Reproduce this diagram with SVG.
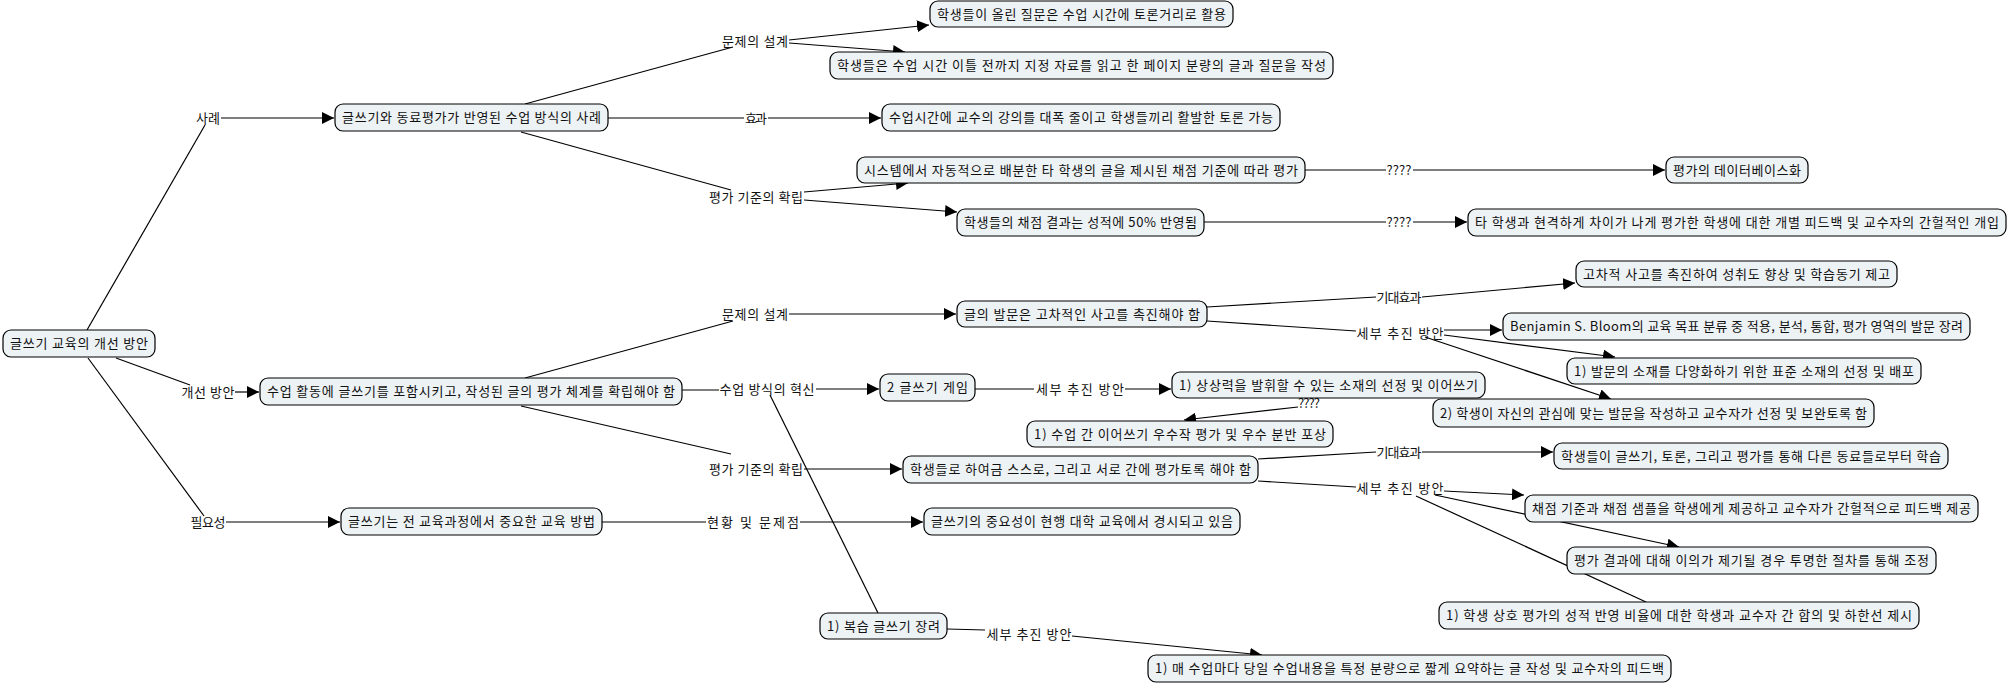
<svg xmlns="http://www.w3.org/2000/svg" width="2008" height="685" viewBox="0 0 2008 685">
<style>
.n rect{fill:#edf2f5;stroke:#000;stroke-width:1.2}
.n text,.lb{font-family:"Noto Sans CJK KR","Liberation Sans",sans-serif;font-size:13px;fill:#111;text-anchor:middle}
.c line{stroke:#000;stroke-width:1.2}
.a{marker-end:url(#ar)}
</style>
<defs>
<marker id="ar" markerUnits="userSpaceOnUse" markerWidth="12" markerHeight="12" viewBox="0 0 10 10" refX="10" refY="5" orient="auto">
<path d="M0,0 L10,5 L0,10 z" fill="#000"/>
</marker>
</defs>
<rect width="2008" height="685" fill="#fff"/>
<g id="connectors" class="c">
<line x1="87" y1="330" x2="205" y2="125"/>
<line class="a" x1="221" y1="118" x2="334" y2="118"/>
<line x1="116" y1="358" x2="190" y2="385"/>
<line class="a" x1="235" y1="392" x2="259" y2="392"/>
<line x1="88" y1="358" x2="204" y2="516"/>
<line class="a" x1="226" y1="522" x2="340" y2="522"/>
<line x1="525" y1="104" x2="733" y2="47"/>
<line class="a" x1="789" y1="40" x2="929" y2="25"/>
<line class="a" x1="789" y1="43" x2="905" y2="52"/>
<line x1="608" y1="118" x2="744" y2="118"/>
<line class="a" x1="768" y1="118" x2="881" y2="118"/>
<line x1="521" y1="132" x2="731" y2="190"/>
<line class="a" x1="804" y1="192" x2="908" y2="183"/>
<line class="a" x1="804" y1="200" x2="957" y2="212"/>
<line x1="1305" y1="170" x2="1386" y2="170"/>
<line class="a" x1="1413" y1="170" x2="1665" y2="170"/>
<line x1="1204" y1="222" x2="1386" y2="222"/>
<line class="a" x1="1413" y1="222" x2="1467" y2="222"/>
<line x1="525" y1="378" x2="733" y2="321"/>
<line class="a" x1="789" y1="314" x2="956" y2="314"/>
<line x1="682" y1="390" x2="719" y2="390"/>
<line class="a" x1="816" y1="389" x2="879" y2="389"/>
<line x1="770" y1="395" x2="878" y2="613"/>
<line x1="521" y1="406" x2="731" y2="454"/>
<line class="a" x1="804" y1="469" x2="902" y2="469"/>
<line x1="602" y1="522" x2="706" y2="522"/>
<line class="a" x1="800" y1="522" x2="923" y2="522"/>
<line x1="1207" y1="307" x2="1376" y2="297"/>
<line class="a" x1="1422" y1="297" x2="1575" y2="283"/>
<line x1="1207" y1="321" x2="1356" y2="331"/>
<line class="a" x1="1444" y1="330" x2="1502" y2="330"/>
<line class="a" x1="1444" y1="335" x2="1615" y2="357"/>
<line class="a" x1="1425" y1="337" x2="1611" y2="399"/>
<line x1="975" y1="389" x2="1034" y2="389"/>
<line class="a" x1="1125" y1="389" x2="1171" y2="389"/>
<line class="a" x1="1298" y1="407" x2="1184" y2="420"/>
<line x1="1258" y1="459" x2="1376" y2="452"/>
<line class="a" x1="1422" y1="452" x2="1553" y2="452"/>
<line x1="1258" y1="481" x2="1356" y2="487"/>
<line class="a" x1="1444" y1="491" x2="1524" y2="495"/>
<line class="a" x1="1435" y1="495" x2="1679" y2="547"/>
<line x1="1416" y1="496" x2="1646" y2="602"/>
<line x1="947" y1="629" x2="985" y2="630"/>
<line class="a" x1="1072" y1="636" x2="1262" y2="655"/>
</g>
<g id="labels">
<text class="lb" x="208" y="122.5" textLength="24">사례</text>
<text class="lb" x="208" y="396.5" textLength="53">개선 방안</text>
<text class="lb" x="208" y="526.5" textLength="35">필요성</text>
<text class="lb" x="755" y="45.5" textLength="66">문제의 설계</text>
<text class="lb" x="756" y="122.5" textLength="22">효과</text>
<text class="lb" x="756" y="201.5" textLength="94">평가 기준의 확립</text>
<text class="lb" x="1399" y="174.5" textLength="25">????</text>
<text class="lb" x="1399" y="226.5" textLength="25">????</text>
<text class="lb" x="755" y="318.5" textLength="66">문제의 설계</text>
<text class="lb" x="767" y="393.5" textLength="95">수업 방식의 혁신</text>
<text class="lb" x="756" y="473.5" textLength="94">평가 기준의 확립</text>
<text class="lb" x="753" y="526.5" textLength="92">현황 및 문제점</text>
<text class="lb" x="1399" y="301.5" textLength="45">기대효과</text>
<text class="lb" x="1400" y="337.5" textLength="87">세부 추진 방안</text>
<text class="lb" x="1080" y="393.5" textLength="88">세부 추진 방안</text>
<text class="lb" x="1309" y="408" textLength="22">????</text>
<text class="lb" x="1399" y="456.5" textLength="45">기대효과</text>
<text class="lb" x="1400" y="492.5" textLength="87">세부 추진 방안</text>
<text class="lb" x="1029" y="638.5" textLength="85">세부 추진 방안</text>
</g>
<g id="root" class="n"><rect x="3" y="330" width="152" height="27" rx="8"/><text x="79" y="348" textLength="138">글쓰기 교육의 개선 방안</text></g>
<g id="n1" class="n"><rect x="335" y="104" width="273" height="27" rx="8"/><text x="471.5" y="122" textLength="259">글쓰기와 동료평가가 반영된 수업 방식의 사례</text></g>
<g id="nA" class="n"><rect x="930" y="1" width="303" height="26" rx="8"/><text x="1081.5" y="18.5" textLength="289">학생들이 올린 질문은 수업 시간에 토론거리로 활용</text></g>
<g id="nB" class="n"><rect x="830" y="52" width="503" height="27" rx="8"/><text x="1081.5" y="70" textLength="489">학생들은 수업 시간 이틀 전까지 지정 자료를 읽고 한 페이지 분량의 글과 질문을 작성</text></g>
<g id="nC" class="n"><rect x="882" y="104" width="398" height="27" rx="8"/><text x="1081" y="122" textLength="384">수업시간에 교수의 강의를 대폭 줄이고 학생들끼리 활발한 토론 가능</text></g>
<g id="nD" class="n"><rect x="857" y="157" width="448" height="26" rx="8"/><text x="1081" y="174.5" textLength="434">시스템에서 자동적으로 배분한 타 학생의 글을 제시된 채점 기준에 따라 평가</text></g>
<g id="nE" class="n"><rect x="957" y="209" width="247" height="27" rx="8"/><text x="1080.5" y="227" textLength="233">학생들의 채점 결과는 성적에 50% 반영됨</text></g>
<g id="nF" class="n"><rect x="1666" y="157" width="142" height="26" rx="8"/><text x="1737" y="174.5" textLength="128">평가의 데이터베이스화</text></g>
<g id="nG" class="n"><rect x="1468" y="209" width="538" height="27" rx="8"/><text x="1737" y="227" textLength="524">타 학생과 현격하게 차이가 나게 평가한 학생에 대한 개별 피드백 및 교수자의 간헐적인 개입</text></g>
<g id="nH" class="n"><rect x="260" y="378" width="422" height="27" rx="8"/><text x="471" y="396" textLength="408">수업 활동에 글쓰기를 포함시키고, 작성된 글의 평가 체계를 확립해야 함</text></g>
<g id="nI" class="n"><rect x="341" y="508" width="261" height="27" rx="8"/><text x="471.5" y="526" textLength="247">글쓰기는 전 교육과정에서 중요한 교육 방법</text></g>
<g id="nJ" class="n"><rect x="957" y="301" width="250" height="26" rx="8"/><text x="1082" y="318.5" textLength="236">글의 발문은 고차적인 사고를 촉진해야 함</text></g>
<g id="nK" class="n"><rect x="880" y="374" width="95" height="27" rx="8"/><text x="927.5" y="392" textLength="81">2 글쓰기 게임</text></g>
<g id="nL" class="n"><rect x="1172" y="372" width="313" height="26" rx="8"/><text x="1328.5" y="389.5" textLength="299">1) 상상력을 발휘할 수 있는 소재의 선정 및 이어쓰기</text></g>
<g id="nM" class="n"><rect x="1027" y="421" width="306" height="26" rx="8"/><text x="1180" y="438.5" textLength="292">1) 수업 간 이어쓰기 우수작 평가 및 우수 분반 포상</text></g>
<g id="nN" class="n"><rect x="903" y="456" width="355" height="27" rx="8"/><text x="1080.5" y="474" textLength="341">학생들로 하여금 스스로, 그리고 서로 간에 평가토록 해야 함</text></g>
<g id="nO" class="n"><rect x="924" y="508" width="316" height="27" rx="8"/><text x="1082" y="526" textLength="302">글쓰기의 중요성이 현행 대학 교육에서 경시되고 있음</text></g>
<g id="nP" class="n"><rect x="820" y="613" width="127" height="26" rx="8"/><text x="883.5" y="630.5" textLength="113">1) 복습 글쓰기 장려</text></g>
<g id="nQ" class="n"><rect x="1148" y="655" width="523" height="27" rx="8"/><text x="1409.5" y="673" textLength="509">1) 매 수업마다 당일 수업내용을 특정 분량으로 짧게 요약하는 글 작성 및 교수자의 피드백</text></g>
<g id="nR" class="n"><rect x="1576" y="261" width="321" height="26" rx="8"/><text x="1736.5" y="278.5" textLength="307">고차적 사고를 촉진하여 성취도 향상 및 학습동기 제고</text></g>
<g id="nS" class="n"><rect x="1503" y="313" width="467" height="27" rx="8"/><text x="1736.5" y="331" textLength="453">Benjamin S. Bloom의 교육 목표 분류 중 적용, 분석, 통합, 평가 영역의 발문 장려</text></g>
<g id="nT" class="n"><rect x="1567" y="358" width="354" height="26" rx="8"/><text x="1744" y="375.5" textLength="340">1) 발문의 소재를 다양화하기 위한 표준 소재의 선정 및 배포</text></g>
<g id="nU" class="n"><rect x="1433" y="399" width="441" height="28" rx="8"/><text x="1653.5" y="417.5" textLength="427">2) 학생이 자신의 관심에 맞는 발문을 작성하고 교수자가 선정 및 보완토록 함</text></g>
<g id="nV" class="n"><rect x="1554" y="443" width="394" height="26" rx="8"/><text x="1751" y="460.5" textLength="380">학생들이 글쓰기, 토론, 그리고 평가를 통해 다른 동료들로부터 학습</text></g>
<g id="nW" class="n"><rect x="1525" y="495" width="453" height="27" rx="8"/><text x="1751.5" y="513" textLength="439">채점 기준과 채점 샘플을 학생에게 제공하고 교수자가 간헐적으로 피드백 제공</text></g>
<g id="nX" class="n"><rect x="1567" y="547" width="369" height="27" rx="8"/><text x="1751.5" y="565" textLength="355">평가 결과에 대해 이의가 제기될 경우 투명한 절차를 통해 조정</text></g>
<g id="nY" class="n"><rect x="1439" y="602" width="480" height="27" rx="8"/><text x="1679" y="620" textLength="466">1) 학생 상호 평가의 성적 반영 비율에 대한 학생과 교수자 간 합의 및 하한선 제시</text></g>
</svg>
